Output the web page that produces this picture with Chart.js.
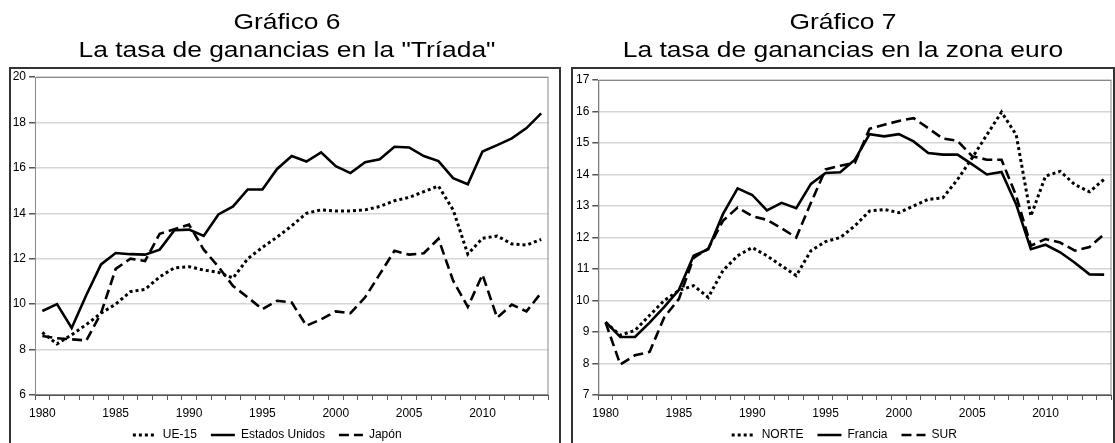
<!DOCTYPE html>
<html lang="es">
<head>
<meta charset="utf-8">
<title>Tasa de ganancias</title>
<script src="https://cdn.jsdelivr.net/npm/chart.js@4.4.1/dist/chart.umd.min.js"></script>
<style>
    html, body { margin: 0; padding: 0; background: #fff; overflow: hidden; }
    #wrap { position: relative; width: 1115px; height: 443px; }
    .chart-box { position: absolute; top: 0; height: 443px; }
    .frame { position: absolute; top: 67px; height: 400px; box-sizing: border-box; border: 2px solid #333; pointer-events: none; }
</style>
</head>
<body>
<div id="wrap">
    <div class="frame" style="left: 9px; width: 552px;"></div>
    <div class="frame" style="left: 571px; width: 544px;"></div>
    <div class="chart-box" style="left: 0; width: 565px;"><canvas id="chart6"></canvas></div>
    <div class="chart-box" style="left: 565px; width: 550px;"><canvas id="chart7"></canvas></div>
</div>

<script>
// Años (eje X) - 1980 a 2014
const years = [
    1980, 1981, 1982, 1983, 1984, 1985, 1986, 1987, 1988, 1989,
    1990, 1991, 1992, 1993, 1994, 1995, 1996, 1997, 1998, 1999,
    2000, 2001, 2002, 2003, 2004, 2005, 2006, 2007, 2008, 2009,
    2010, 2011, 2012, 2013, 2014
];

// Gráfico 6: la "Tríada"
const titulo6 = ['Gráfico 6', 'La tasa de ganancias en la "Tríada"'];
const ue15 = [
    8.75, 8.25, 8.65, 9.1, 9.6, 10.0, 10.55, 10.65, 11.2, 11.6,
    11.65, 11.5, 11.4, 11.15, 12.0, 12.5, 12.95, 13.45, 14.0, 14.15,
    14.1, 14.1, 14.15, 14.3, 14.55, 14.7, 14.95, 15.2, 14.15, 12.2,
    12.9, 13.0, 12.65, 12.6, 12.85
];
const estadosUnidos = [
    9.7, 10.0, 8.95, 10.4, 11.75, 12.25, 12.2, 12.18, 12.4, 13.25,
    13.28, 13.0, 13.95, 14.3, 15.05, 15.05, 15.95, 16.52, 16.28, 16.68,
    16.07, 15.77, 16.25, 16.38, 16.93, 16.9, 16.52, 16.3, 15.55, 15.28,
    16.72, 17.0, 17.3, 17.75, 18.4
];
const japon = [
    8.6, 8.5, 8.45, 8.4, 9.6, 11.55, 12.0, 11.9, 13.1, 13.3,
    13.5, 12.4, 11.65, 10.8, 10.3, 9.78, 10.15, 10.07, 9.05, 9.33,
    9.68, 9.6, 10.3, 11.32, 12.35, 12.18, 12.24, 12.88, 11.03, 9.88,
    11.3, 9.4, 9.98, 9.68, 10.5
];

// Gráfico 7: zona euro
const titulo7 = ['Gráfico 7', 'La tasa de ganancias en la zona euro'];
const norte = [
    9.3, 8.9, 9.05, 9.53, 10.0, 10.32, 10.47, 10.1, 10.95, 11.42,
    11.68, 11.42, 11.1, 10.79, 11.58, 11.87, 12.0, 12.37, 12.84, 12.89,
    12.79, 13.0, 13.21, 13.26, 13.84, 14.53, 15.26, 15.98, 15.26, 12.68,
    13.95, 14.1, 13.68, 13.45, 13.85
];
const francia = [
    9.32, 8.84, 8.84, 9.3, 9.8, 10.34, 11.42, 11.63, 12.74, 13.56,
    13.35, 12.86, 13.1, 12.93, 13.7, 14.05, 14.07, 14.47, 15.28, 15.21,
    15.28, 15.05, 14.68, 14.63, 14.63, 14.32, 14.0, 14.08, 13.05, 11.63,
    11.77, 11.53, 11.2, 10.83, 10.82
];
const sur = [
    9.3, 7.97, 8.26, 8.37, 9.47, 10.05, 11.35, 11.65, 12.53, 12.95,
    12.68, 12.56, 12.29, 12.0, 13.1, 14.16, 14.28, 14.37, 15.45, 15.58,
    15.7, 15.79, 15.47, 15.14, 15.07, 14.58, 14.47, 14.47, 13.32, 11.74,
    11.95, 11.84, 11.58, 11.7, 12.1
];

const FONT = '"Liberation Sans", Arial, sans-serif';
const DOTTED = [3, 3];
const DASHED = [10, 5];

// Marco gris alrededor del área de trazado
const plotFrame = {
    id: 'plotFrame',
    beforeDatasetsDraw(chart) {
        const { ctx, chartArea: a } = chart;
        ctx.save();
        ctx.strokeStyle = '#8a8a8a';
        ctx.lineWidth = 1;
        ctx.strokeRect(a.left + 0.5, a.top + 0.5, a.width - 1, a.height - 1);
        ctx.restore();
    }
};

// Título en dos líneas, algo ensanchado como en el original
const wideTitle = {
    id: 'wideTitle',
    afterDraw(chart, args, opts) {
        const ctx = chart.ctx;
        ctx.save();
        ctx.fillStyle = '#000';
        ctx.font = opts.size + 'px ' + FONT;
        ctx.textAlign = 'center';
        ctx.textBaseline = 'alphabetic';
        opts.lines.forEach((line, i) => {
            ctx.save();
            ctx.translate(opts.x, opts.baselines[i]);
            ctx.scale(opts.stretch, 1);
            ctx.fillText(line, 0, 0);
            ctx.restore();
        });
        ctx.restore();
    }
};

// Baja la leyenda hasta el borde inferior (solo mueve el borde superior del recuadro)
const legendShift = {
    id: 'legendShift',
    afterLayout(chart, args, opts) {
        const lg = chart.legend;
        if (!lg) return;
        lg.left += opts.dx; lg.right += opts.dx;
        lg.top += opts.dy;
    }
};

// Leyenda con el mismo trazo (punteado / guiones) que cada serie
function legendLabels(chart) {
    const items = Chart.defaults.plugins.legend.labels.generateLabels(chart);
    items.forEach((item, i) => {
        const ds = chart.data.datasets[i];
        item.lineDash = ds.borderDash;
        item.lineWidth = ds.borderWidth;
        item.strokeStyle = '#000';
        item.fillStyle = '#000';
    });
    return items;
}

function lineDataset(label, data, dash) {
    return {
        label: label,
        data: data,
        borderColor: '#000',
        backgroundColor: '#000',
        borderWidth: dash === DOTTED ? 3 : 2.6,
        borderDash: dash,
        pointRadius: 0,
        tension: 0,
        fill: false
    };
}

function buildChart(canvasId, cfg) {
    const ctx = document.getElementById(canvasId).getContext('2d');
    return new Chart(ctx, {
        type: 'line',
        data: { labels: years, datasets: cfg.datasets },
        plugins: [plotFrame, wideTitle, legendShift],
        options: {
            responsive: true,
            maintainAspectRatio: false,
            animation: false,
            layout: { padding: cfg.pad },
            plugins: {
                title: { display: false },
                wideTitle: {
                    lines: cfg.title,
                    x: cfg.titleX,
                    baselines: [29, 57],
                    size: 22,
                    stretch: 1.2
                },
                legendShift: { dx: cfg.legendDx, dy: -8 },
                legend: {
                    position: 'bottom',
                    maxHeight: 20,
                    labels: {
                        color: '#000',
                        font: { family: FONT, size: 12 },
                        usePointStyle: true,
                        pointStyle: 'line',
                        pointStyleWidth: 24,
                        padding: 14,
                        generateLabels: legendLabels
                    }
                },
                tooltip: { enabled: false }
            },
            scales: {
                x: {
                    type: 'category',
                    offset: true,
                    afterFit: (s) => { s.height = 28; },
                    grid: {
                        offset: true,
                        drawOnChartArea: false,
                        tickLength: 5,
                        tickColor: '#555',
                        lineWidth: 1
                    },
                    border: { display: true, color: '#555', width: 1 },
                    ticks: {
                        autoSkip: false,
                        maxRotation: 0,
                        padding: 6.5,
                        color: '#000',
                        font: { family: FONT, size: 12 },
                        callback: function(value) {
                            const y = years[value];
                            return y % 5 === 0 ? String(y) : '';
                        }
                    }
                },
                y: {
                    min: cfg.yMin,
                    max: cfg.yMax,
                    afterFit: (s) => { s.width = cfg.yWidth; },
                    grid: {
                        color: '#d6d6d6',
                        lineWidth: 1.5,
                        tickLength: 6,
                        tickColor: '#555'
                    },
                    border: { display: true, color: '#555', width: 1 },
                    ticks: {
                        stepSize: cfg.yStep,
                        padding: 3,
                        color: '#000',
                        font: { family: FONT, size: 12 }
                    }
                }
            }
        }
    });
}

document.addEventListener('DOMContentLoaded', function() {
    buildChart('chart6', {
        title: titulo6,
        titleX: 287,
        legendDx: -12,
        datasets: [
            lineDataset('UE-15', ue15, DOTTED),
            lineDataset('Estados Unidos', estadosUnidos, []),
            lineDataset('Japón', japon, DASHED)
        ],
        yMin: 6, yMax: 20, yStep: 2,
        pad: { left: 10, right: 16.5, top: 77, bottom: 0 },
        yWidth: 25
    });

    buildChart('chart7', {
        title: titulo7,
        titleX: 278,
        legendDx: 0,
        datasets: [
            lineDataset('NORTE', norte, DOTTED),
            lineDataset('Francia', francia, []),
            lineDataset('SUR', sur, DASHED)
        ],
        yMin: 7, yMax: 17, yStep: 1,
        pad: { left: 12, right: 3.5, top: 80, bottom: 0 },
        yWidth: 21.3
    });
});
</script>
</body>
</html>
